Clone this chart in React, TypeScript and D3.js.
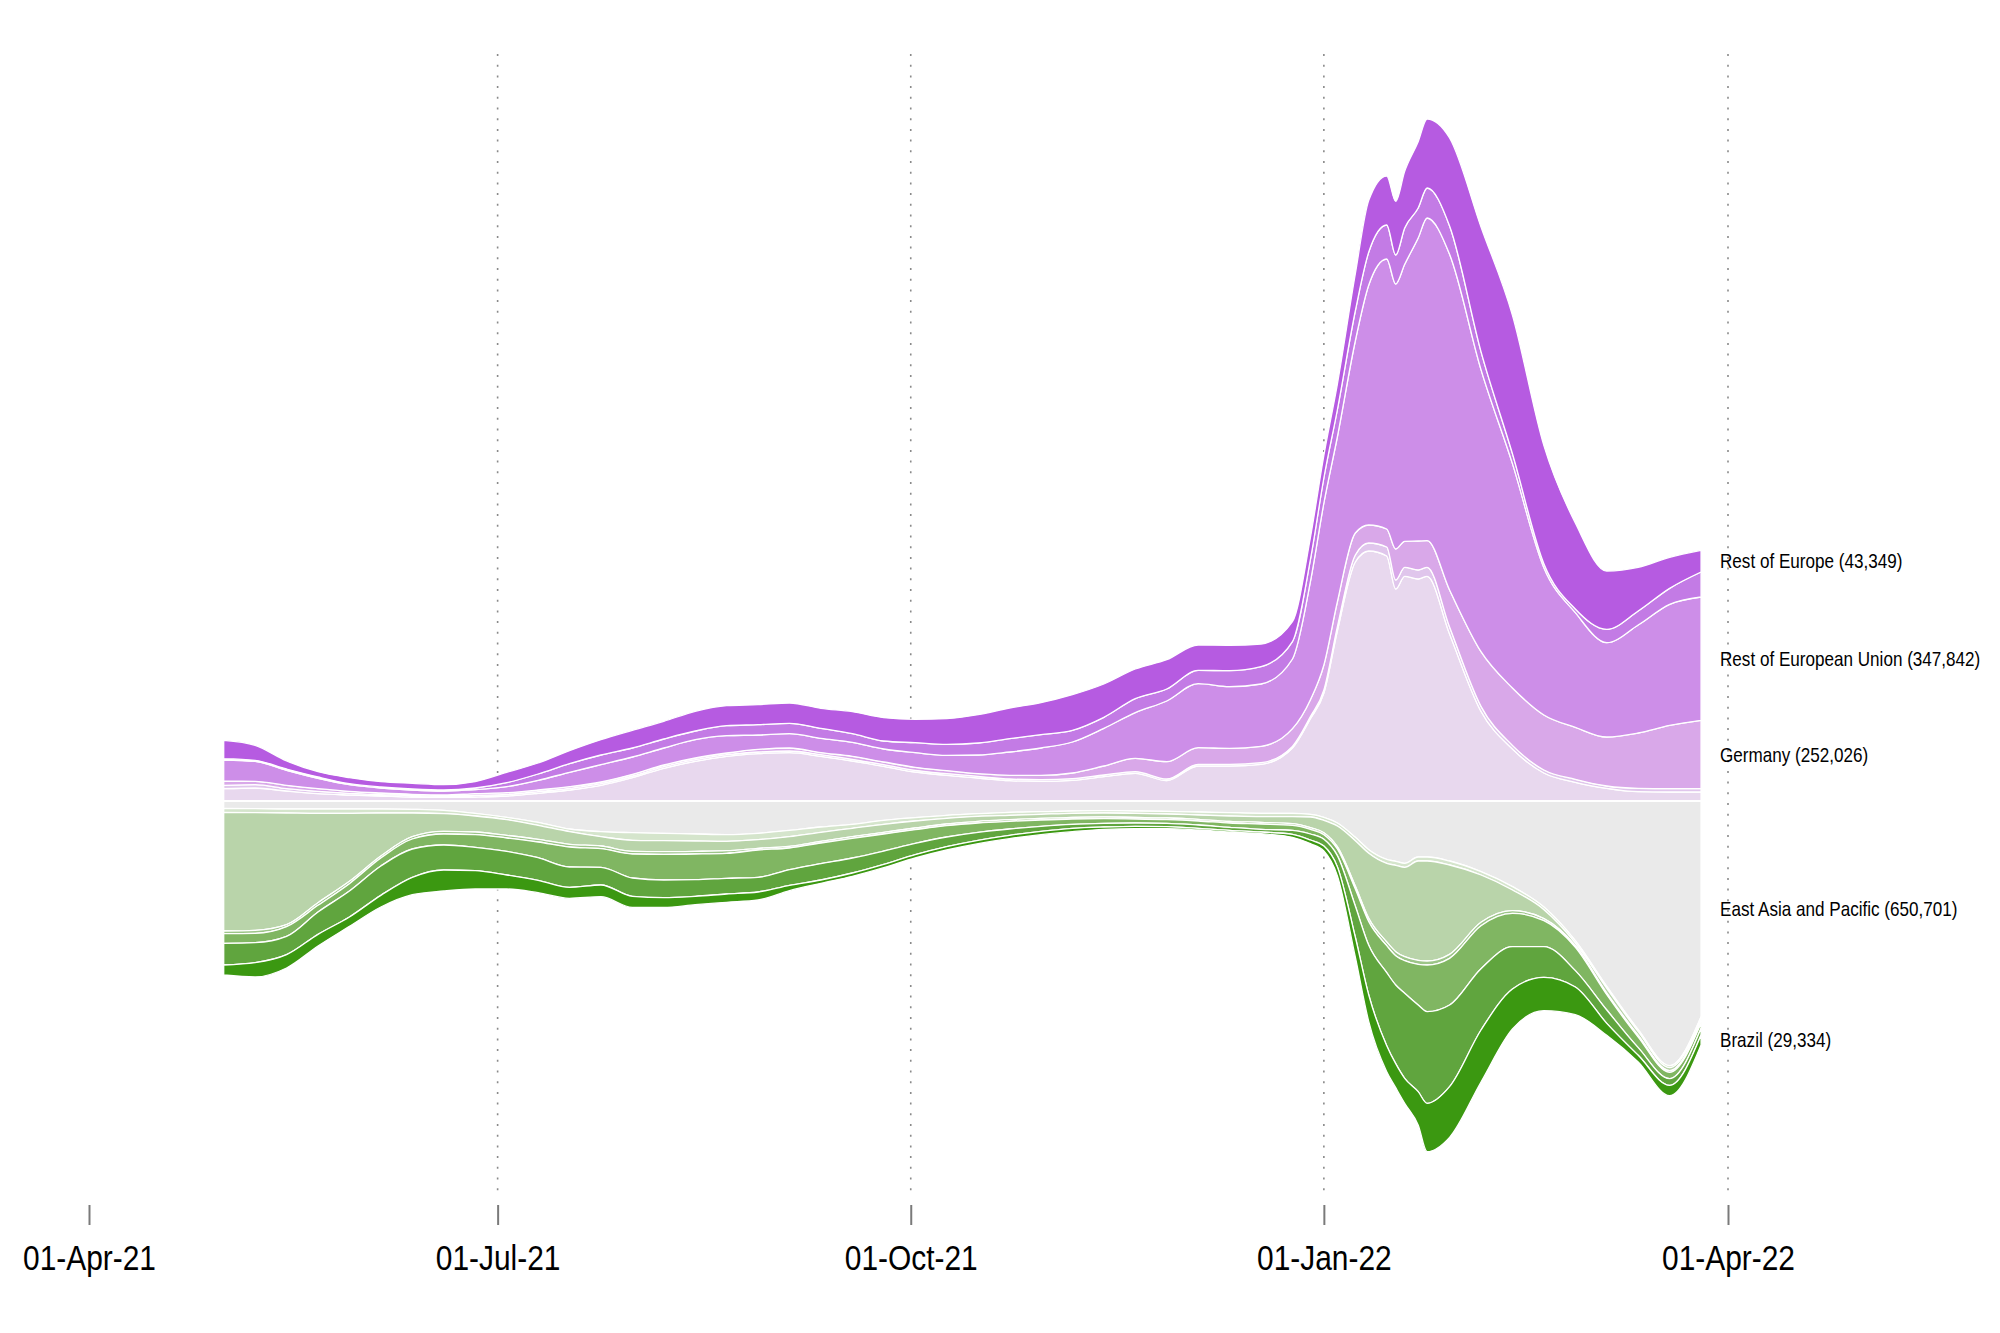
import React, { useEffect, useRef } from 'react';
import * as d3 from 'd3';

// sample dates (weekly, denser around the January peak)
const dates = [
  '2021-05-01', '2021-05-08', '2021-05-15', '2021-05-22', '2021-05-29', '2021-06-05', '2021-06-12',
  '2021-06-19', '2021-06-26', '2021-07-03', '2021-07-10', '2021-07-17', '2021-07-24', '2021-07-31',
  '2021-08-07', '2021-08-14', '2021-08-21', '2021-08-28', '2021-09-04', '2021-09-11', '2021-09-18',
  '2021-09-25', '2021-10-02', '2021-10-09', '2021-10-16', '2021-10-23', '2021-10-30', '2021-11-06',
  '2021-11-13', '2021-11-20', '2021-11-27', '2021-12-04', '2021-12-11', '2021-12-18', '2021-12-25',
  '2021-12-29', '2022-01-01', '2022-01-04', '2022-01-08', '2022-01-11', '2022-01-15', '2022-01-17',
  '2022-01-19', '2022-01-22', '2022-01-24', '2022-01-29', '2022-02-05', '2022-02-12', '2022-02-19',
  '2022-02-26', '2022-03-05', '2022-03-12', '2022-03-19', '2022-03-26',
];

// upper half (thousands of cases), from the baseline upwards
const europeBase = [37, 39, 30, 22, 18, 15, 12, 11, 12, 15, 23, 33, 47, 70, 98, 119, 134, 142, 145, 134, 120, 104, 87, 77, 69, 61, 59, 62, 73, 83, 61, 105, 105, 110, 159,
  247, 324, 510, 717, 750, 735, 636, 674, 666, 674, 501, 269, 156, 84, 56, 38, 28, 27, 27];
const europeThin = [10, 10, 7, 7, 5, 4, 4, 3, 5, 5, 5, 5, 5, 5, 5, 5, 5, 5, 5, 5, 5, 5, 5, 5, 5, 5, 5, 5, 5, 5, 5, 5, 5, 5, 5,
  6, 9, 12, 21, 24, 27, 27, 27, 27, 27, 21, 15, 11, 9, 9, 7, 10, 10, 10];
const germany = [13, 10, 10, 8, 6, 5, 4, 4, 5, 5, 5, 5, 5, 5, 5, 5, 5, 8, 9, 6, 9, 8, 9, 9, 8, 11, 13, 17, 27, 40, 52, 50, 48, 49, 53,
  51, 75, 75, 66, 54, 54, 93, 78, 87, 80, 111, 164, 172, 165, 156, 147, 166, 190, 205];
const restOfEU = [63, 60, 45, 31, 20, 15, 13, 12, 12, 18, 29, 43, 52, 52, 51, 55, 52, 43, 43, 43, 42, 39, 44, 46, 56, 70, 82, 93, 113, 137, 182, 192, 185, 187, 209,
  354, 486, 495, 576, 720, 810, 795, 831, 909, 968, 1007, 846, 673, 442, 344, 283, 324, 363, 370];
const europeUpper = [4, 3, 4, 4, 3, 3, 3, 3, 5, 12, 19, 26, 29, 27, 27, 26, 30, 31, 31, 30, 26, 24, 30, 33, 36, 40, 40, 35, 33, 42, 36, 40, 48, 52, 52,
  66, 75, 81, 90, 99, 102, 87, 109, 90, 90, 85, 54, 30, 12, 11, 40, 42, 48, 75];
const restOfEurope = [55, 45, 24, 16, 18, 16, 17, 16, 19, 31, 33, 39, 46, 53, 53, 59, 60, 60, 61, 60, 66, 70, 70, 77, 85, 92, 96, 107, 100, 89, 88, 76, 76, 68, 60,
  66, 68, 77, 111, 155, 147, 161, 170, 199, 207, 264, 374, 415, 354, 258, 175, 131, 93, 65];

// lower half (thousands of cases), from the baseline downwards
const eastAsiaPacific = [22, 23, 24, 24, 24, 24, 25, 28, 37, 49, 64, 84, 92, 95, 97, 99, 101, 97, 88, 78, 70, 58, 50, 43, 38, 34, 32, 30, 29, 30, 31, 33, 35, 37, 37,
  40, 49, 66, 109, 146, 175, 181, 187, 168, 168, 180, 212, 257, 318, 419, 556, 686, 794, 647];
const worldPale = [12, 12, 12, 13, 13, 12, 11, 10, 8, 7, 9, 8, 15, 23, 22, 21, 20, 19, 19, 16, 12, 12, 10, 9, 8, 9, 8, 7, 7, 7, 8, 9, 10, 10, 10,
  8, 9, 9, 10, 11, 12, 12, 12, 12, 12, 12, 10, 10, 8, 7, 6, 6, 6, 7];
const worldLight = [356, 353, 335, 268, 204, 129, 71, 53, 48, 47, 42, 38, 28, 33, 33, 31, 28, 26, 29, 27, 25, 24, 21, 17, 15, 13, 12, 12, 12, 12, 12, 13, 16, 17, 21,
  32, 37, 62, 136, 195, 236, 259, 268, 298, 300, 268, 142, 62, 27, 8, 14, 11, 9, 8];
const worldThin = [8, 9, 6, 8, 7, 6, 7, 8, 8, 8, 8, 8, 8, 8, 8, 8, 8, 5, 5, 5, 5, 5, 5, 5, 5, 5, 5, 5, 5, 5, 5, 5, 5, 5, 5,
  5, 6, 7, 9, 10, 11, 12, 12, 12, 12, 12, 10, 8, 6, 5, 5, 5, 5, 5];
const worldMid = [29, 28, 29, 20, 22, 24, 30, 33, 38, 40, 47, 60, 56, 72, 77, 77, 75, 82, 65, 62, 59, 51, 41, 34, 28, 23, 19, 16, 14, 12, 11, 12, 13, 16, 15,
  14, 14, 20, 51, 71, 81, 88, 98, 122, 140, 140, 129, 100, 78, 70, 46, 32, 19, 15];
const worldGreen = [65, 60, 55, 67, 78, 88, 85, 75, 70, 71, 68, 61, 53, 55, 53, 50, 47, 44, 47, 49, 45, 40, 34, 29, 24, 19, 15, 12, 11, 10, 10, 10, 9, 8, 12,
  18, 20, 33, 93, 149, 219, 236, 255, 260, 275, 245, 184, 127, 92, 49, 40, 23, 20, 20];
const brazil = [30, 43, 40, 35, 28, 35, 52, 63, 55, 42, 37, 33, 35, 33, 29, 25, 25, 24, 16, 10, 10, 10, 10, 10, 10, 10, 10, 10, 7, 7, 6, 5, 5, 5, 9,
  11, 15, 27, 60, 80, 78, 72, 75, 100, 145, 152, 156, 120, 100, 83, 36, 20, 31, 30];

const topKeys = ['europeBase', 'europeThin', 'germany', 'restOfEU', 'europeUpper', 'restOfEurope'];
const bottomKeys = ['eastAsiaPacific', 'worldPale', 'worldLight', 'worldThin', 'worldMid', 'worldGreen', 'brazil'];

const tickDates = ['2021-04-01', '2021-07-01', '2021-10-01', '2022-01-01', '2022-04-01'];

const endLabels = [
  { key: 'restOfEurope', text: 'Rest of Europe (43,349)' },
  { key: 'restOfEU', text: 'Rest of European Union (347,842)' },
  { key: 'germany', text: 'Germany (252,026)' },
  { key: 'eastAsiaPacific', text: 'East Asia and Pacific (650,701)' },
  { key: 'brazil', text: 'Brazil (29,334)' },
];

const colors: Record<string, string> = {
  europeBase: '#e8d8ee',
  europeThin: '#e0c6ec',
  germany: '#d9a8e9',
  restOfEU: '#cd8ee8',
  europeUpper: '#c37be5',
  restOfEurope: '#b65be1',
  eastAsiaPacific: '#eaeaea',
  worldPale: '#d5e5cc',
  worldLight: '#b9d4aa',
  worldThin: '#9cc588',
  worldMid: '#80b662',
  worldGreen: '#60a53e',
  brazil: '#3b9811',
};

const FONT = '"Liberation Sans", Arial, sans-serif';
const SQUEEZE = 'scale(0.855,1)';

const App = () => {
  const svgRef = useRef<SVGSVGElement | null>(null);

  useEffect(() => {
    if (!svgRef.current) return;
    const parse = d3.utcParse('%Y-%m-%d');

    const series: Record<string, number[]> = {
      europeBase, europeThin, germany, restOfEU, europeUpper, restOfEurope,
      eastAsiaPacific, worldPale, worldLight, worldThin, worldMid, worldGreen, brazil,
    };

    // europe goes up, the rest of the world goes down
    const rows = dates.map((d, i) => {
      const row: any = { date: parse(d) };
      topKeys.forEach(k => { row[k] = series[k][i]; });
      bottomKeys.forEach(k => { row[k] = -series[k][i]; });
      return row;
    });

    const stacked = d3.stack<any>()
      .keys([...topKeys, ...bottomKeys])
      .offset(d3.stackOffsetDiverging)(rows);

    const x = d3.scaleUtc()
      .domain([parse('2021-04-01')!, parse('2022-04-01')!])
      .range([89, 1728]);

    const y = d3.scaleLinear()
      .domain([-1200, 2400])
      .range([1201, 1]);

    const svg = d3.select(svgRef.current);
    svg.selectAll('*').remove();

    // dotted vertical grid
    svg.append('g')
      .selectAll('line')
      .data(tickDates.slice(1).map(d => parse(d)!))
      .enter().append('line')
      .attr('x1', d => x(d)).attr('x2', d => x(d))
      .attr('y1', 54).attr('y2', 1199)
      .style('stroke', '#8a8a8a')
      .style('stroke-width', 1.6)
      .style('stroke-dasharray', '2 8.7');

    const area = d3.area<any>()
      .x(d => x(d.data.date))
      .y0(d => y(d[0]))
      .y1(d => y(d[1]))
      .curve(d3.curveMonotoneX);

    svg.append('g')
      .selectAll('path')
      .data(stacked)
      .enter().append('path')
      .attr('d', area)
      .style('fill', d => colors[d.key])
      .style('stroke', '#ffffff')
      .style('stroke-width', 1.3)
      .style('stroke-linejoin', 'round');

    // white gap between the two halves
    svg.append('line')
      .attr('x1', x(rows[0].date) - 1).attr('x2', x(rows[rows.length - 1].date) + 1)
      .attr('y1', y(0)).attr('y2', y(0))
      .style('stroke', '#ffffff')
      .style('stroke-width', 2.2);

    // x axis
    const axis = svg.append('g')
      .attr('transform', 'translate(0,1205)')
      .call(
        d3.axisBottom(x)
          .tickValues(tickDates.map(d => parse(d)!))
          .tickSize(20)
          .tickPadding(20)
          .tickFormat(d => d3.utcFormat('%d-%b-%y')(d as Date))
      );
    axis.select('.domain').remove();
    axis.selectAll('.tick line')
      .style('stroke', '#7a7a7a')
      .style('stroke-width', 2);
    axis.selectAll('.tick text')
      .attr('transform', SQUEEZE)
      .style('font-family', FONT)
      .style('font-size', '35px')
      .style('fill', '#000000');

    // labels at the right end, centred on each layer
    const last = rows.length - 1;
    const labelG = svg.append('g');
    endLabels.forEach(l => {
      const layer = stacked.find(s => s.key === l.key)!;
      const yMid = (y(layer[last][0]) + y(layer[last][1])) / 2;
      labelG.append('g')
        .attr('transform', `translate(1720,${yMid})`)
        .append('text')
        .attr('transform', SQUEEZE)
        .attr('dy', '0.35em')
        .style('font-family', FONT)
        .style('font-size', '20px')
        .style('fill', '#000000')
        .text(l.text);
    });
  }, []);

  return (
    <svg
      ref={svgRef}
      width={2000}
      height={1333}
      style={{ position: 'absolute', left: 0, top: 0, background: '#ffffff', display: 'block' }}
    />
  );
};

export default App;
